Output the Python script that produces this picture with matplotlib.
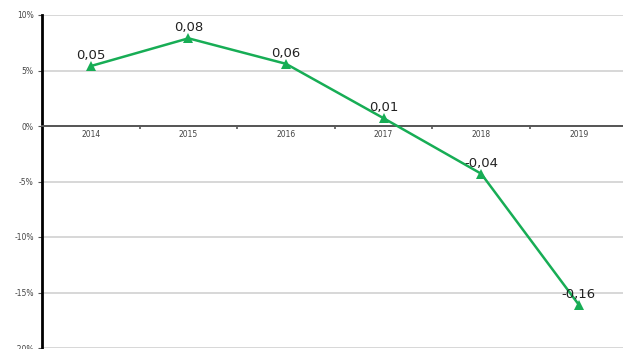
import matplotlib
matplotlib.use("Agg")
import matplotlib.pyplot as plt
from matplotlib.ticker import FuncFormatter, FixedLocator
import numpy as np

plt.rcParams['font.family'] = ['DejaVu Sans']

years = ["2014", "2015", "2016", "2017", "2018", "2019"]
growth = [0.054, 0.079, 0.056, 0.007, -0.043, -0.161]
y_ticks = [0.10, 0.05, 0.0, -0.05, -0.10, -0.15, -0.20]

W, H = 623, 349
fig = plt.figure(figsize=(W / 100, H / 100), dpi=100)
step = 97.6
ax = fig.add_axes([42 / W, 1 / H, 6 * step / W, 333 / H])

x = np.arange(len(years))
ax.set_xlim(-0.5, len(years) - 0.5)
ax.set_ylim(-0.20, 0.10)

# horizontal gridlines
ax.yaxis.set_major_locator(FixedLocator(y_ticks))
ax.grid(axis='y', color='#d4d4d4', linewidth=1.3)
ax.set_axisbelow(True)

ax.plot(x, growth, color='#17ad55', linewidth=1.8, marker='^',
        markersize=6.5, markeredgewidth=0, zorder=3)

for xi, v in zip(x, growth):
    ax.annotate(f"{v:.2f}".replace('.', ','), (xi, v), xytext=(0, 5),
                textcoords='offset points', ha='center', va='baseline',
                fontsize=9.5, color='#222222', zorder=4)

# spines
for s in ('top', 'right'):
    ax.spines[s].set_visible(False)
ax.spines['left'].set_linewidth(2)
ax.spines['left'].set_color('black')
ax.spines['bottom'].set_position(('data', 0))
ax.spines['bottom'].set_color('#555555')
ax.spines['bottom'].set_linewidth(1.4)

# x ticks: labels at categories, tick marks at boundaries
ax.set_xticks(x)
ax.set_xticklabels(years)
ax.xaxis.set_minor_locator(FixedLocator(np.arange(0.5, len(years) - 0.5, 1)))
ax.tick_params(axis='x', which='major', length=0, labelsize=5.5,
               labelcolor='#444444', pad=3)
ax.tick_params(axis='x', which='minor', length=2, width=1.2, color='#555555')

ax.yaxis.set_major_formatter(FuncFormatter(lambda v, p: f"{v * 100:.0f}%"))
ax.tick_params(axis='y', length=3, width=0.8, color='#555555', labelsize=5.5,
               labelcolor='#444444', pad=3)

fig.savefig("out.png", dpi=100)
